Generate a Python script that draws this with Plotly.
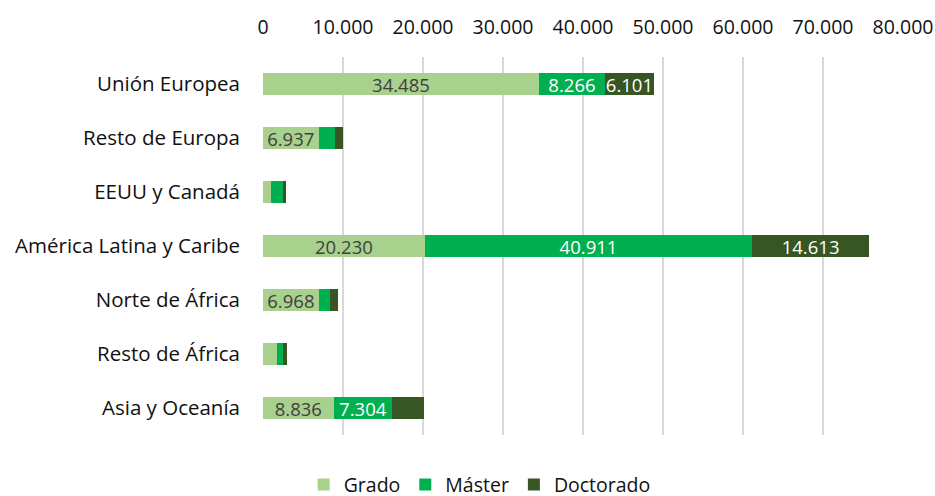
"""Estudiantes extranjeros por región de origen y nivel (barras apiladas)."""

import plotly.graph_objects as go

regions = [
    "Unión Europea",
    "Resto de Europa",
    "EEUU y Canadá",
    "América Latina y Caribe",
    "Norte de África",
    "Resto de África",
    "Asia y Oceanía",
]
grado = [34485, 6937, 950, 20230, 6968, 1750, 8836]
master = [8266, 2100, 1550, 40911, 1450, 750, 7304]
doctorado = [6101, 1000, 400, 14613, 900, 450, 4030]

# which segments carry a visible label in the original
show_grado = [True, True, False, True, True, False, True]
show_master = [True, False, False, True, False, False, True]
show_doctorado = [True, False, False, True, False, False, False]

x_ticks = [0, 10000, 20000, 30000, 40000, 50000, 60000, 70000, 80000]


def _labels(values, shown):
    return [f"{v:,}".replace(",", ".") if s else "" for v, s in zip(values, shown)]


series = [
    ("Grado", grado, show_grado, "#a9d18e", "#404040"),
    ("Máster", master, show_master, "#00b050", "#ffffff"),
    ("Doctorado", doctorado, show_doctorado, "#375623", "#ffffff"),
]

fig = go.Figure()
for name, values, shown, color, text_color in series:
    fig.add_trace(
        go.Bar(
            name=name,
            y=regions,
            x=values,
            orientation="h",
            marker_color=color,
            marker_line_width=0,
            text=_labels(values, shown),
            textposition="inside",
            insidetextanchor="middle",
            textfont={"size": 18.5, "color": text_color},
            hoverinfo="x+name",
        )
    )

fig.update_layout(
    barmode="stack",
    bargap=0.59,
    width=935,
    height=496,
    margin={"l": 263, "r": 32, "t": 57, "b": 61, "autoexpand": False},
    plot_bgcolor="white",
    paper_bgcolor="white",
    separators=",.",
    font={"family": "Open Sans, sans-serif", "size": 19.5, "color": "#111111"},
    uniformtext={"minsize": 18.5, "mode": "show"},
    legend={
        "orientation": "h",
        "yref": "paper",
        "xref": "container",
        "x": 0.513,
        "y": -0.132,
        "xanchor": "center",
        "yanchor": "middle",
        "font": {"size": 19.5, "color": "#111111"},
        "traceorder": "normal",
        "itemwidth": 30,
    },
)
fig.update_xaxes(
    side="top",
    range=[0, 80000],
    tickvals=x_ticks,
    tickformat=",d",
    showgrid=True,
    gridcolor="#d9d9d9",
    gridwidth=1.5,
    zeroline=False,
    showline=False,
    ticks="",
    ticklabelstandoff=18,
    automargin=False,
    fixedrange=True,
)
fig.update_yaxes(
    autorange="reversed",
    showgrid=False,
    showline=False,
    ticks="",
    ticklabelstandoff=22,
    tickfont={"size": 20.5},
    automargin=False,
    fixedrange=True,
)

# drop the default 8px body margin so the figure fills the window exactly
fig.write_html(
    "out.html",
    config={"displayModeBar": False},
    post_script="document.body.style.margin='0';document.body.style.overflow='hidden';",
)
